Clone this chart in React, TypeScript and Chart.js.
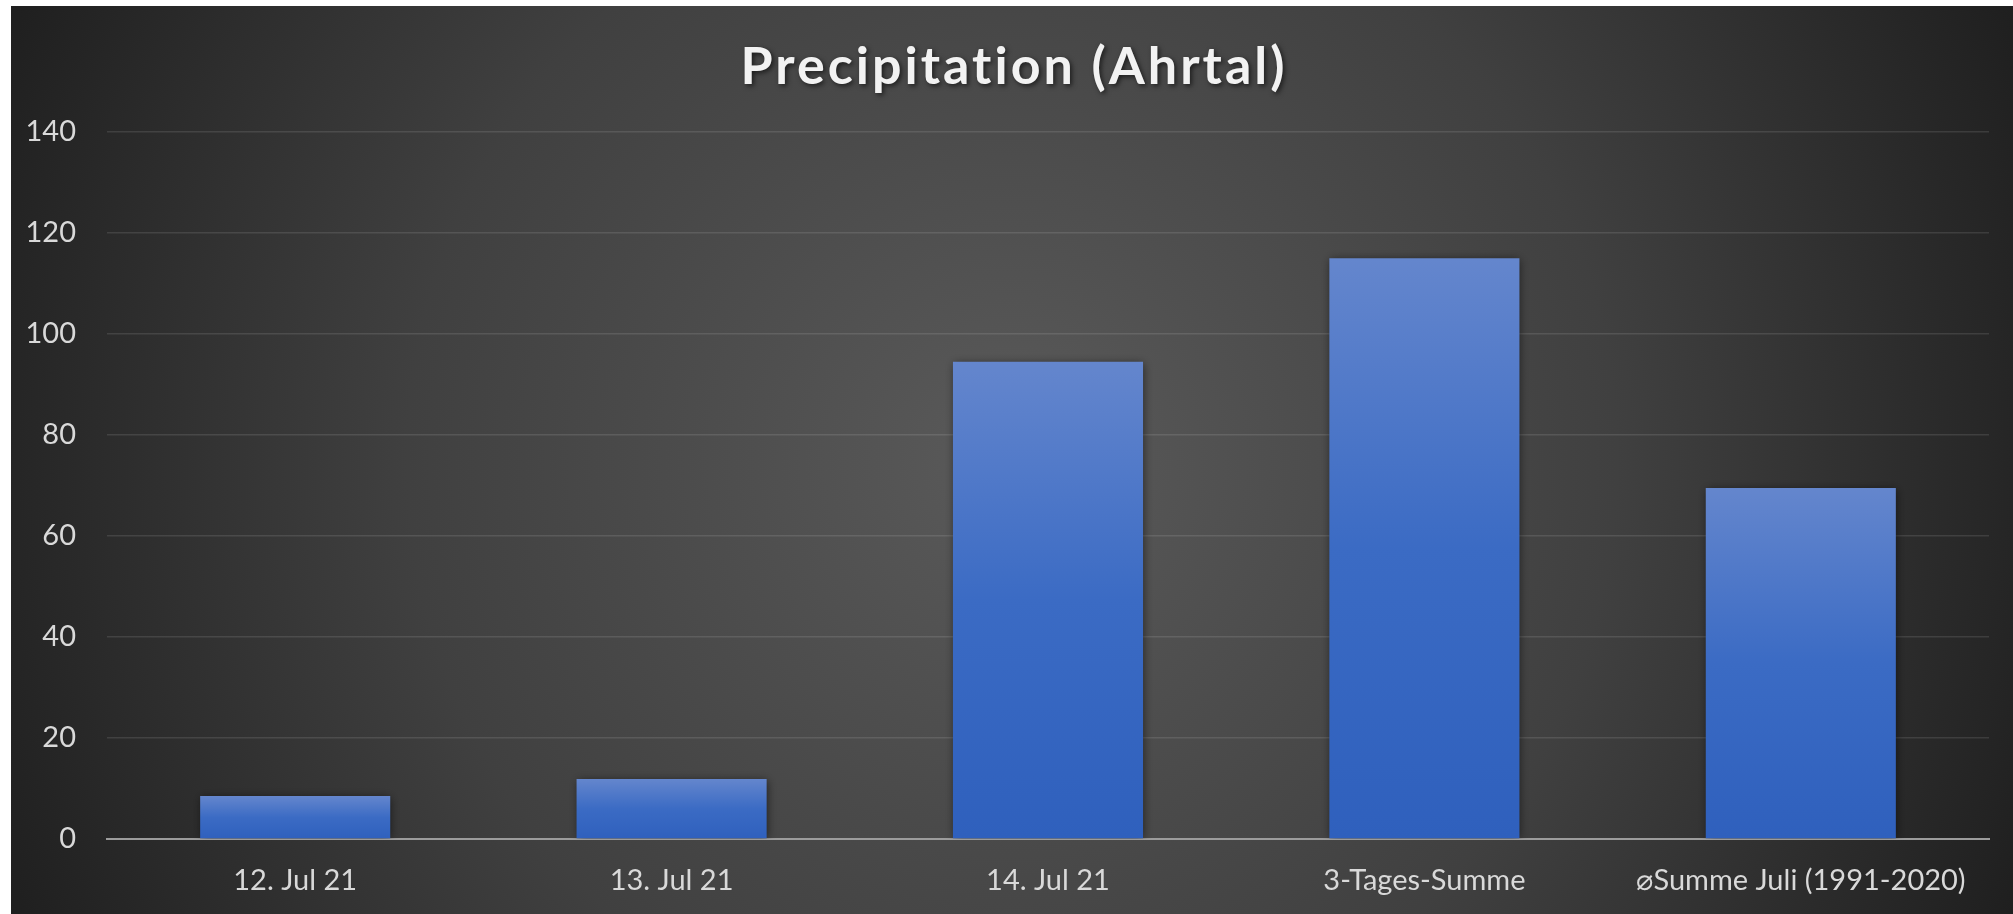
import React, { useEffect, useRef } from "react";
import { Chart, registerables } from "chart.js";

Chart.register(...registerables);

const chartTitle = "Precipitation (Ahrtal)";
const categories = [
  "12. Jul 21",
  "13. Jul 21",
  "14. Jul 21",
  "3-Tages-Summe",
  "\u2300Summe Juli (1991-2020)",
];
const precipitation = [8.5, 11.9, 94.5, 115.0, 69.5];
const yTickValues = [0, 20, 40, 60, 80, 100, 120, 140];

const FONT = "Lato, 'Open Sans', 'DejaVu Sans', sans-serif";
const CANVAS_W = 2002;
const CANVAS_H = 908;

const backgroundPlugin = {
  id: "radialBackground",
  beforeDraw(chart: any) {
    const { ctx, width, height } = chart;
    const cx = width / 2;
    const cy = height / 2;
    const r = Math.sqrt(cx * cx + cy * cy);
    const g = ctx.createRadialGradient(cx, cy, 0, cx, cy, r);
    g.addColorStop(0, "#5a5a5a");
    g.addColorStop(0.55, "#404040");
    g.addColorStop(1, "#1f1f1f");
    ctx.save();
    ctx.fillStyle = g;
    ctx.fillRect(0, 0, width, height);
    ctx.restore();
  },
};

const barShadowPlugin = {
  id: "barShadow",
  beforeDatasetsDraw(chart: any) {
    const ctx = chart.ctx;
    ctx.save();
    ctx.shadowColor = "rgba(0,0,0,0.55)";
    ctx.shadowBlur = 9;
    ctx.shadowOffsetX = 1;
    ctx.shadowOffsetY = 1;
  },
  afterDatasetsDraw(chart: any) {
    chart.ctx.restore();
  },
};

const titlePlugin = {
  id: "shadowTitle",
  afterDraw(chart: any) {
    const ctx = chart.ctx;
    ctx.save();
    ctx.font = `bold 52px ${FONT}`;
    ctx.textAlign = "center";
    ctx.textBaseline = "alphabetic";
    ctx.shadowColor = "rgba(0,0,0,0.6)";
    ctx.shadowBlur = 5;
    ctx.shadowOffsetX = 2;
    ctx.shadowOffsetY = 2;
    ctx.fillStyle = "#f2f2f2";
    (ctx as any).letterSpacing = "3px";
    ctx.fillText(chartTitle, 1003, 78);
    ctx.restore();
  },
};

function barFill(context: any) {
  const chart = context.chart;
  const { chartArea, scales } = chart;
  if (!chartArea || !scales || !scales.y || context.type !== "data") {
    return "#4472c4";
  }
  const v = context.raw as number;
  const top = scales.y.getPixelForValue(v);
  const bottom = scales.y.getPixelForValue(0);
  if (!isFinite(top) || !isFinite(bottom) || bottom - top < 1) return "#4472c4";
  const g = chart.ctx.createLinearGradient(0, top, 0, bottom);
  g.addColorStop(0, "#6486cd");
  g.addColorStop(0.5, "#3b6bc4");
  g.addColorStop(1, "#2f60bd");
  return g;
}

export default function App() {
  const canvasRef = useRef<HTMLCanvasElement | null>(null);

  useEffect(() => {
    const canvas = canvasRef.current;
    if (!canvas) return;
    const chart = new Chart(canvas, {
      type: "bar",
      data: {
        labels: categories,
        datasets: [
          {
            label: "Precipitation",
            data: precipitation,
            backgroundColor: barFill as any,
            borderWidth: 0,
            categoryPercentage: 1,
            barPercentage: 0.505,
          },
        ],
      },
      options: {
        animation: false,
        responsive: false,
        devicePixelRatio: 1,
        layout: {
          padding: { top: 126, right: 24, bottom: 0, left: 0 },
        },
        plugins: {
          legend: { display: false },
          title: { display: false },
          tooltip: { enabled: false },
        },
        scales: {
          x: {
            grid: { display: false, drawTicks: false },
            border: { display: true, color: "#9c9c9c", width: 2 },
            ticks: {
              color: "#d9d9d9",
              font: { family: FONT, size: 29 },
              padding: 24,
              maxRotation: 0,
              autoSkip: false,
            },
            afterFit(scale: any) {
              scale.height = 75;
            },
          },
          y: {
            min: 0,
            max: 140,
            afterBuildTicks(scale: any) {
              scale.ticks = yTickValues.map((v) => ({ value: v }));
            },
            grid: {
              color: "rgba(255,255,255,0.11)",
              lineWidth: 1.5,
              drawTicks: false,
            },
            border: { display: false },
            ticks: {
              color: "#d9d9d9",
              font: { family: FONT, size: 29 },
              padding: 31,
            },
            afterFit(scale: any) {
              scale.width = 96;
            },
          },
        },
      },
      plugins: [backgroundPlugin, barShadowPlugin, titlePlugin],
    });
    return () => {
      chart.destroy();
    };
  }, []);

  return (
    <div
      style={{
        position: "absolute",
        left: 11,
        top: 6,
        width: CANVAS_W,
        height: CANVAS_H,
        overflow: "hidden",
      }}
    >
      <canvas
        ref={canvasRef}
        width={CANVAS_W}
        height={CANVAS_H}
        style={{ display: "block", width: CANVAS_W, height: CANVAS_H }}
      />
    </div>
  );
}
